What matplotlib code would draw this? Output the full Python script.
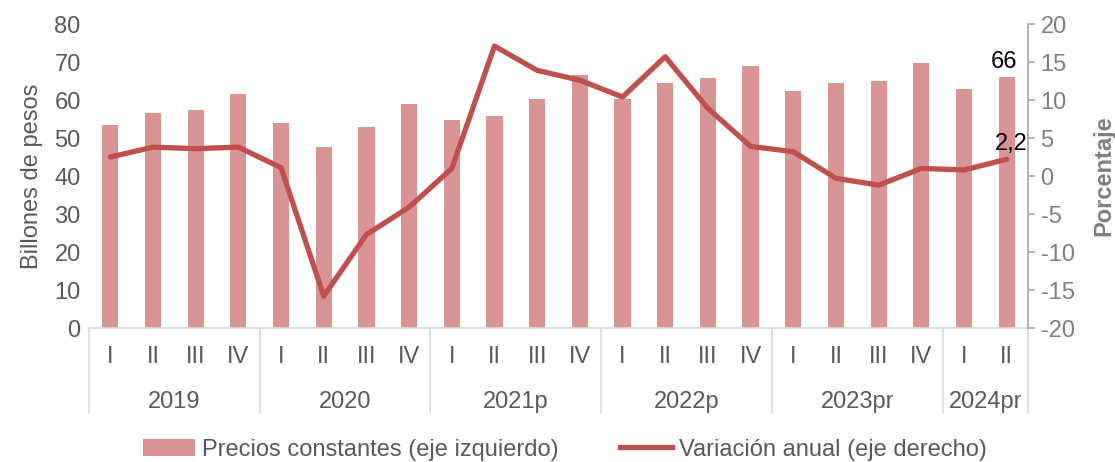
import numpy as np
import matplotlib
matplotlib.use("Agg")
import matplotlib.pyplot as plt
from matplotlib.patches import Patch
from matplotlib.lines import Line2D
import matplotlib.transforms as mtransforms

plt.rcParams['font.family'] = ['Liberation Sans', 'DejaVu Sans']
plt.rcParams['axes.unicode_minus'] = False

quarters = ['I', 'II', 'III', 'IV'] * 5 + ['I', 'II']
years = ['2019', '2020', '2021p', '2022p', '2023pr', '2024pr']
year_sizes = [4, 4, 4, 4, 4, 2]

# billones de pesos, precios constantes
precios = [53.4, 56.6, 57.4, 61.5, 53.9, 47.6, 53.0, 58.9, 54.7, 55.8, 60.3,
           66.5, 60.4, 64.6, 65.8, 68.9, 62.4, 64.4, 65.0, 69.8, 62.8, 66.0]
# variacion anual, %
variacion = [2.5, 3.8, 3.6, 3.8, 1.1, -15.8, -7.7, -4.1, 1.0, 17.1, 13.9,
             12.6, 10.4, 15.7, 8.9, 3.9, 3.2, -0.3, -1.2, 1.0, 0.8, 2.2]

bar_color = '#D99594'
line_color = '#C0504D'
txt = '#595959'
fs = 17

fig = plt.figure(figsize=(11.15, 4.62), dpi=100)
ax = fig.add_axes([0.0798, 0.29, 0.8422, 0.658])
x = np.arange(len(precios))

ax.bar(x, precios, width=0.38, color=bar_color, zorder=2)
ax.set_xlim(-0.5, len(precios) - 0.5)
ax.set_ylim(0, 80)
ax.set_yticks(range(0, 81, 10))
ax.tick_params(axis='y', length=0, labelsize=fs, labelcolor=txt, pad=6)
ax.set_ylabel('Billones de pesos', fontsize=fs, color=txt, labelpad=8)
for s in ['top', 'left', 'right']:
    ax.spines[s].set_visible(False)
ax.spines['bottom'].set_color('#D9D9D9')
ax.spines['bottom'].set_linewidth(1.2)

ax.set_xticks(x)
ax.set_xticklabels(quarters, fontsize=fs, color=txt)
ax.tick_params(axis='x', length=0, pad=13)

# year labels and separators below the axis
trans = mtransforms.blended_transform_factory(ax.transData, ax.transAxes)
start = 0
bounds = [-0.5]
for yr, n in zip(years, year_sizes):
    ax.text(start + (n - 1) / 2, -0.245, yr, transform=trans, ha='center', va='center',
            fontsize=fs, color=txt)
    start += n
    bounds.append(start - 0.5)
for b in bounds:
    ax.plot([b, b], [0, -0.28], transform=trans, color='#D9D9D9', lw=1.2, clip_on=False)

ax2 = ax.twinx()
ax2.plot(x, variacion, color=line_color, lw=3.8, solid_capstyle='round', zorder=3)
ax2.set_ylim(-20, 20)
ax2.set_yticks(range(-20, 21, 5))
ax2.tick_params(axis='y', labelsize=fs, labelcolor='#7F7F7F', color='#A6A6A6',
                length=5, width=1.2, pad=4)
ax2.set_ylabel('Porcentaje', fontsize=fs, color='#7F7F7F', fontweight='bold', labelpad=13)
for s in ['top', 'left', 'bottom']:
    ax2.spines[s].set_visible(False)
ax2.spines['right'].set_color('#A6A6A6')
ax2.spines['right'].set_linewidth(1.2)

ax.annotate(f'{precios[-1]:.0f}', (x[-1], precios[-1]), xytext=(-2, 3),
            textcoords='offset points', ha='center', va='bottom', fontsize=fs, color='black')
ax2.annotate(f'{variacion[-1]:.1f}'.replace('.', ','), (x[-1], variacion[-1]), xytext=(3, 3),
             textcoords='offset points', ha='center', va='bottom', fontsize=fs, color='black')

handles = [Patch(facecolor=bar_color, edgecolor='none'),
           Line2D([0], [0], color=line_color, lw=3.8)]
fig.legend(handles, ['Precios constantes (eje izquierdo)', 'Variación anual (eje derecho)'],
           loc='center', bbox_to_anchor=(0.507, 0.027), ncol=2, frameon=False,
           fontsize=fs, labelcolor=txt, handlelength=2.2, handletextpad=0.3,
           columnspacing=2.6)

fig.savefig('out.png', dpi=100)
